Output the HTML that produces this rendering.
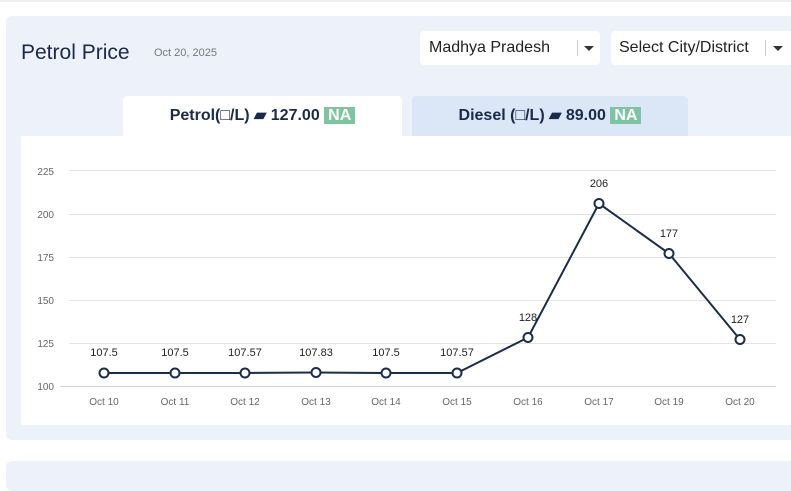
<!DOCTYPE html>
<html><head><style>
body{margin:0;width:791px;height:475px;background:#fff;position:relative;overflow:hidden;font-family:"Liberation Sans",sans-serif}
.panel{position:absolute;left:6px;top:16px;width:790px;height:424px;background:#edf1fa;border-radius:6px}
.panel2{position:absolute;left:6px;top:461px;width:790px;height:30px;background:#edf1fa;border-radius:6px}
.title{position:absolute;left:21px;top:41px;font-size:21px;color:#1b2a4a}
.date{position:absolute;left:154px;top:47px;font-size:11px;color:#777}
.dd{position:absolute;top:31px;height:34px;background:#fff;border-radius:4px;font-size:16px;color:#222;line-height:34px}
.dd span.sep{position:absolute;top:9px;width:1px;height:16px;background:#ccc}
.dd span.car{position:absolute;top:15px;border-left:5px solid transparent;border-right:5px solid transparent;border-top:5px solid #333}
.tab{position:absolute;top:96px;height:40px;line-height:40px;text-align:center;font-size:16px;font-weight:bold;color:#1b2a4a;border-radius:4px 4px 0 0}
.na{background:#7fc4a0;color:#fff;padding:0 4px;font-weight:bold}
.card{position:absolute;left:21px;top:136px;width:770px;height:289px;background:#fff}
</style></head><body>
<div style="position:absolute;left:0;top:0;width:791px;height:2px;background:#eee"></div>
<div class="panel"></div><div class="panel2"></div>
<div class="title">Petrol Price</div><div class="date">Oct 20, 2025</div>
<div class="dd" style="left:420px;width:180px"><span style="margin-left:9px">Madhya Pradesh</span><span class="sep" style="left:157px"></span><span class="car" style="left:164px"></span></div>
<div class="dd" style="left:611px;width:185px"><span style="margin-left:8px">Select City/District</span><span class="sep" style="left:154px"></span><span class="car" style="left:162px"></span></div>
<div class="tab" style="left:123px;width:279px;background:#fff">Petrol(□/L) ▰ 127.00 <span class="na">NA</span></div>
<div class="tab" style="left:412px;width:276px;background:#dbe6f7">Diesel (□/L) ▰ 89.00 <span class="na">NA</span></div>
<div class="card"></div>
<svg width="791" height="475" style="position:absolute;left:0;top:0" font-family="Liberation Sans, sans-serif">
<g stroke="#e3e3e3" stroke-width="1">
<line x1="69" x2="776" y1="170.5" y2="170.5"/><line x1="69" x2="776" y1="214.5" y2="214.5"/><line x1="69" x2="776" y1="257.5" y2="257.5"/><line x1="69" x2="776" y1="300.5" y2="300.5"/><line x1="69" x2="776" y1="343.5" y2="343.5"/><line x1="60" x2="776" y1="386.5" y2="386.5" stroke="#d5d5d5"/>
</g>
<g font-size="10" fill="#666" text-anchor="end">
<text x="54" y="175">225</text><text x="54" y="218">200</text><text x="54" y="261">175</text><text x="54" y="304">150</text><text x="54" y="347">125</text><text x="54" y="390">100</text>
</g>
<g font-size="10" fill="#666" text-anchor="middle">
<text x="104" y="405">Oct 10</text><text x="175" y="405">Oct 11</text><text x="245" y="405">Oct 12</text><text x="316" y="405">Oct 13</text><text x="386" y="405">Oct 14</text><text x="457" y="405">Oct 15</text><text x="528" y="405">Oct 16</text><text x="599" y="405">Oct 17</text><text x="669" y="405">Oct 19</text><text x="740" y="405">Oct 20</text>
</g>
<polyline fill="none" stroke="#1b2d4d" stroke-width="2" points="104,373 175,373 245,373 316,372.5 386,373 457,373 528,337.5 599,203.5 669,253.5 740,339.5"/>
<g fill="#fff" stroke="#1b2d4d" stroke-width="2">
<circle cx="104" cy="373" r="4.5"/><circle cx="175" cy="373" r="4.5"/><circle cx="245" cy="373" r="4.5"/><circle cx="316" cy="372.5" r="4.5"/><circle cx="386" cy="373" r="4.5"/><circle cx="457" cy="373" r="4.5"/><circle cx="528" cy="337.5" r="4.5"/><circle cx="599" cy="203.5" r="4.5"/><circle cx="669" cy="253.5" r="4.5"/><circle cx="740" cy="339.5" r="4.5"/>
</g>
<g font-size="11" fill="#222" text-anchor="middle">
<text x="104" y="356">107.5</text><text x="175" y="356">107.5</text><text x="245" y="356">107.57</text><text x="316" y="356">107.83</text><text x="386" y="356">107.5</text><text x="457" y="356">107.57</text><text x="528" y="321">128</text><text x="599" y="187">206</text><text x="669" y="237">177</text><text x="740" y="323">127</text>
</g>
</svg>
</body></html>
